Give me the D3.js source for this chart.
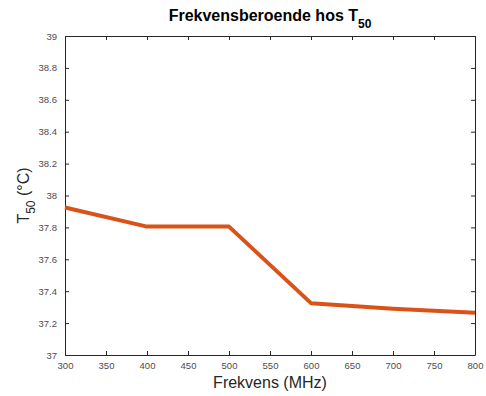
<!DOCTYPE html>
<html><head><meta charset="utf-8">
<script src="https://d3js.org/d3.v7.min.js"></script>
<style>body{margin:0;background:#fff;} text{font-family:"Liberation Sans",Arial,Helvetica,sans-serif;}</style>
</head><body><svg id="c" width="486" height="396"></svg>
<script>
const freq = [300, 400, 500, 600, 700, 800];
const t50 = [37.925, 37.805, 37.805, 37.325, 37.29, 37.265];
const xTicks = [300, 350, 400, 450, 500, 550, 600, 650, 700, 750, 800];
const yTicks = [37, 37.2, 37.4, 37.6, 37.8, 38, 38.2, 38.4, 38.6, 38.8, 39];

const svg = d3.select("#c");
const L = 65, R = 475, T = 36, B = 355;
const x = d3.scaleLinear().domain([300, 800]).range([L, R]);
const y = d3.scaleLinear().domain([37, 39]).range([B, T]);
const axisColor = "#262626", labColor = "#4d4d4d";

function styleAxis(g){
  g.select(".domain").attr("stroke", axisColor).attr("stroke-width", 1);
  g.selectAll(".tick line").attr("stroke", axisColor);
  g.selectAll(".tick text").attr("fill", labColor).style("font-size", "9.5px");
}
const fmt = d => d3.format("")(+d.toFixed(1));
svg.append("g").attr("transform", `translate(0,${B})`)
  .call(d3.axisBottom(x).tickValues(xTicks).tickSizeInner(-4).tickSizeOuter(0).tickPadding(7).tickFormat(d3.format("d")))
  .call(styleAxis);
svg.append("g").attr("transform", `translate(0,${T})`)
  .call(d3.axisTop(x).tickValues(xTicks).tickSizeInner(-4).tickSizeOuter(0).tickFormat(""))
  .call(styleAxis);
svg.append("g").attr("transform", `translate(${L},0)`)
  .call(d3.axisLeft(y).tickValues(yTicks).tickSizeInner(-4).tickSizeOuter(0).tickPadding(8).tickFormat(fmt))
  .call(styleAxis);
svg.append("g").attr("transform", `translate(${R},0)`)
  .call(d3.axisRight(y).tickValues(yTicks).tickSizeInner(-4).tickSizeOuter(0).tickFormat(""))
  .call(styleAxis);

const pts = freq.map((f, i) => [f, t50[i]]);
svg.append("path").datum(pts)
  .attr("fill", "none").attr("stroke", "#D95319").attr("stroke-width", 4)
  .attr("stroke-linejoin", "round")
  .attr("d", d3.line().x(d => x(d[0])).y(d => y(d[1])));

const tt = svg.append("text").attr("x", 270).attr("y", 21).attr("text-anchor", "middle")
  .attr("fill", "#000").style("font-size", "16px").style("font-weight", "bold");
tt.append("tspan").text("Frekvensberoende hos T");
tt.append("tspan").attr("dy", 7).style("font-size", "12px").text("50");

svg.append("text").attr("x", 270).attr("y", 388).attr("text-anchor", "middle")
  .attr("fill", "#262626").style("font-size", "16px").text("Frekvens (MHz)");

const yl = svg.append("text").attr("transform", `translate(29,${(T+B)/2}) rotate(-90)`)
  .attr("text-anchor", "middle").attr("fill", "#262626").style("font-size", "16px");
yl.append("tspan").text("T");
yl.append("tspan").attr("dy", 6).style("font-size", "12px").text("50");
yl.append("tspan").attr("dy", -6).text(" (°C)");
</script></body></html>
